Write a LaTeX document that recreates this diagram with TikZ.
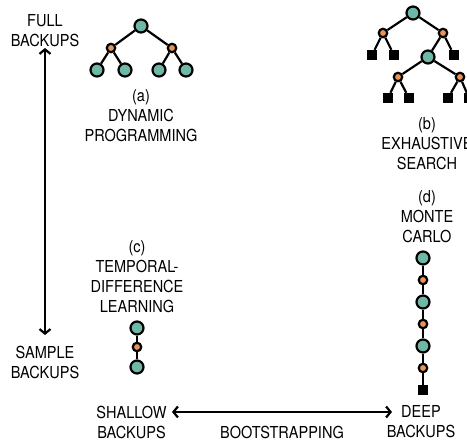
\documentclass[tikz,border=0pt]{standalone}
\usepackage{fontspec}
\setmainfont[FakeStretch=0.88]{TeX Gyre Heros}
\usetikzlibrary{arrows.meta}
\definecolor{tealc}{HTML}{6FB7A6}
\definecolor{orangec}{HTML}{E8955A}
\begin{document}
\begin{tikzpicture}[x=1pt,y=-1pt,
  lbl/.style={font=\fontsize{16.5}{20}\selectfont, align=center, inner sep=0pt},
  tn/.style={circle, draw=black, line width=2.2pt, fill=tealc, minimum size=13pt, inner sep=0pt},
  on/.style={circle, draw=black, line width=2.2pt, fill=orangec, minimum size=8.5pt, inner sep=0pt},
  sq/.style={rectangle, fill=black, minimum size=10pt, inner sep=0pt},
  edge/.style={line width=2.2pt},
  dbl/.style={line width=2.2pt, {Straight Barb[length=4.5pt,width=11pt]}-{Straight Barb[length=4.5pt,width=11pt]}}
]
\clip (0,0) rectangle (467,441);
% labels
\node[lbl] (full) at (45,31) {FULL\\BACKUPS};
\node[lbl] (sample) at (45,362) {SAMPLE\\BACKUPS};
\node[lbl] (la) at (141,116) {(a)\\DYNAMIC\\PROGRAMMING};
\node[lbl] (lb) at (427,144) {(b)\\EXHAUSTIVE\\SEARCH};
\node[lbl] (lc) at (137,277) {(c)\\TEMPORAL-\\DIFFERENCE\\LEARNING};
\node[lbl] (ld) at (427,217) {(d)\\MONTE\\CARLO};
\node[lbl] (shallow) at (131.5,422) {SHALLOW\\BACKUPS};
\node[lbl] (deep) at (421,422) {DEEP\\BACKUPS};
\node[lbl] (boot) at (282,432) {BOOTSTRAPPING};
% axis arrows
\coordinate (vt) at (45,48);
\coordinate (vb) at (45,335);
\draw[dbl] (vt) -- (vb);
\coordinate (hl) at (172,412);
\coordinate (hr) at (392,412);
\draw[dbl] (hl) -- (hr);
% tree (a)
\node[tn] (a0) at (141,26) {};
\node[on] (a1) at (111,48) {};
\node[on] (a2) at (172,48) {};
\node[tn] (a3) at (97,70) {};
\node[tn] (a4) at (125,70) {};
\node[tn] (a5) at (159,70) {};
\node[tn] (a6) at (186,70) {};
\draw[edge] (a0)--(a1) (a0)--(a2) (a1)--(a3) (a1)--(a4) (a2)--(a5) (a2)--(a6);
% tree (b)
\node[tn] (b0) at (413,13) {};
\node[on] (b1) at (383,33) {};
\node[on] (b2) at (443,33) {};
\node[sq] (b3) at (372,55) {};
\node[sq] (b4) at (394,55) {};
\node[tn] (b5) at (428,57) {};
\node[sq] (b6) at (454,55) {};
\node[on] (b7) at (398,77) {};
\node[on] (b8) at (460,77) {};
\node[sq] (b9) at (388,98) {};
\node[sq] (b10) at (409,98) {};
\node[sq] (b11) at (448,98) {};
\node[sq] (b12) at (469,98) {};
\draw[edge] (b0)--(b1) (b0)--(b2) (b1)--(b3) (b1)--(b4) (b2)--(b5) (b2)--(b6)
  (b5)--(b7) (b5)--(b8) (b7)--(b9) (b7)--(b10) (b8)--(b11) (b8)--(b12);
% chain (c)
\node[tn] (c0) at (137,328) {};
\node[on] (c1) at (137,347) {};
\node[tn] (c2) at (137,367) {};
\draw[edge] (c0)--(c1) (c1)--(c2);
% chain (d)
\node[tn] (d0) at (423,258) {};
\node[on] (d1) at (423,280) {};
\node[tn] (d2) at (423,302) {};
\node[on] (d3) at (423,324) {};
\node[tn] (d4) at (423,346) {};
\node[on] (d5) at (423,368) {};
\node[sq] (d6) at (423,390) {};
\draw[edge] (d0)--(d1) (d1)--(d2) (d2)--(d3) (d3)--(d4) (d4)--(d5) (d5)--(d6);
\end{tikzpicture}
\end{document}
